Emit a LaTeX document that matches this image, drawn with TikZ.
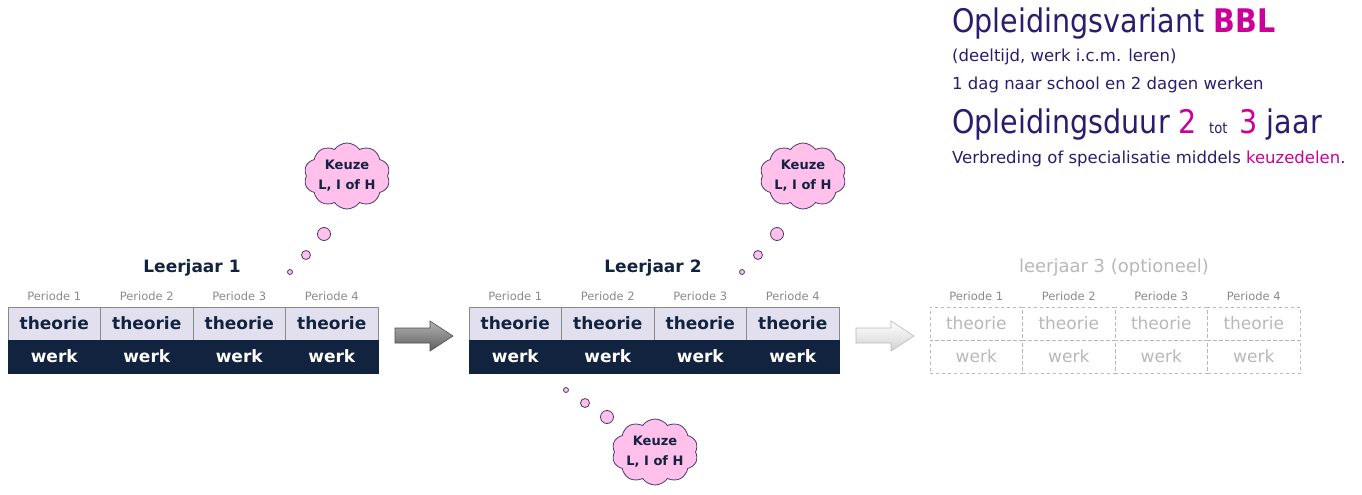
\documentclass[tikz,border=0pt]{standalone}
\usepackage{fontspec}
\setmainfont{DejaVu Sans}
\newfontfamily\kop{DejaVu Sans}[FakeStretch=0.88]
\usetikzlibrary{shapes.symbols}
\definecolor{navy}{HTML}{12233F}
\definecolor{lav}{HTML}{E2E0EE}
\definecolor{purp}{HTML}{2B1C6E}
\definecolor{mag}{HTML}{CC0099}
\definecolor{pinkf}{HTML}{FFC0EC}
\definecolor{cloudb}{HTML}{4A3A6A}
\definecolor{lgray}{HTML}{B8B8B8}
\definecolor{pgray}{HTML}{8A8A8A}
\newcommand{\fs}[1]{\fontsize{#1}{#1}\selectfont}
\begin{document}
\begin{tikzpicture}[x=1pt,y=-1pt,
  cell/.style={minimum width=92.5pt, minimum height=33pt, inner sep=0pt, outer sep=0pt},
  th/.style={cell, draw=pgray, fill=lav, text=navy, font=\fs{17}\bfseries},
  wk/.style={cell, draw=navy, fill=navy, text=white, font=\fs{17}\bfseries},
  opt/.style={cell, draw=lgray, dashed, text=lgray, font=\fs{17}},
  per/.style={text=pgray, font=\fs{11.5}, inner sep=0pt},
  jaar/.style={font=\fs{17}\bfseries, text=navy, inner sep=0pt},
  wolk/.style={cloud, cloud puffs=10, cloud puff arc=110, cloud ignores aspect, draw=cloudb, fill=pinkf, line width=0.8pt,
     minimum width=86pt, minimum height=66pt, inner sep=0pt, align=center,
     font=\fontsize{13}{20}\selectfont\bfseries, text=navy},
  bel/.style={circle, draw=cloudb, fill=pinkf, line width=0.8pt, inner sep=0pt},
  head/.style={anchor=base west, inner sep=0pt, text=purp}
]
\useasboundingbox (0,0) rectangle (1362,495);

% tables
\foreach \t/\L in {1/8, 2/469}{
  \foreach \i in {1,...,4}{
    \node[per] (p\t\i) at ({\L+46.25+(\i-1)*92.5},296) {Periode \i};
    \node[th] (t\t\i) at ({\L+46.25+(\i-1)*92.5},323.5) {theorie};
    \node[wk] (w\t\i) at ({\L+46.25+(\i-1)*92.5},356.5) {werk};
  }
}
\foreach \i in {1,...,4}{
  \node[per] (p3\i) at ({930+46.25+(\i-1)*92.5},296) {Periode \i};
  \node[opt] (t3\i) at ({930+46.25+(\i-1)*92.5},323.5) {theorie};
  \node[opt] (w3\i) at ({930+46.25+(\i-1)*92.5},356.5) {werk};
}
\node[jaar] (j1) at (192,268) {Leerjaar 1};
\node[jaar] (j2) at (653,268) {Leerjaar 2};
\node[font=\fs{18}, text=lgray, inner sep=0pt] (j3) at (1114,268) {leerjaar 3 (optioneel)};

% block arrows
\shade[draw=gray!60!black, line width=0.6pt, top color=gray!60, middle color=gray!30, bottom color=gray!75!black]
  (395,328) -- (430,328) -- (430,321) -- (453,336) -- (430,351) -- (430,343) -- (395,343) -- cycle;
\shade[draw=gray!55, line width=0.6pt, top color=white, middle color=white, bottom color=gray!35]
  (856,328) -- (891,328) -- (891,321) -- (914,336) -- (891,351) -- (891,343) -- (856,343) -- cycle;

% clouds
\node[wolk] (c1) at (347,176) {Keuze\\L, I of H};
\node[bel, minimum size=13pt] (b11) at (324,234) {};
\node[bel, minimum size=9pt] (b12) at (306,255) {};
\node[bel, minimum size=5pt] (b13) at (290,272) {};

\node[wolk] (c2) at (803,176) {Keuze\\L, I of H};
\node[bel, minimum size=13pt] (b21) at (777,234) {};
\node[bel, minimum size=9pt] (b22) at (758,255) {};
\node[bel, minimum size=5pt] (b23) at (742,272) {};

\node[wolk] (c3) at (655,452) {Keuze\\L, I of H};
\node[bel, minimum size=13pt] (b31) at (607,417) {};
\node[bel, minimum size=9pt] (b32) at (585,403) {};
\node[bel, minimum size=5pt] (b33) at (566,390) {};

% heading text
\node[head, font=\kop\fs{32.5}] (h1) at (952,33) {Opleidingsvariant \textcolor{mag}{\bfseries BBL}};
\node[head, font=\fs{16.5}] (h2) at (952,62) {(deeltijd, werk i.c.m. leren)};
\node[head, font=\fs{16.5}] (h3) at (952,89) {1 dag naar school en 2 dagen werken};
\node[head, font=\kop\fs{32.5}] (h4) at (952,133) {Opleidingsduur \textcolor{mag}{2}\hspace{3pt} {\fs{15}tot}\hspace{3pt} \textcolor{mag}{3} jaar};
\node[head, font=\fs{16.5}] (h5) at (952,163) {Verbreding of specialisatie middels \textcolor{mag}{keuzedelen}.};
\end{tikzpicture}
\end{document}
